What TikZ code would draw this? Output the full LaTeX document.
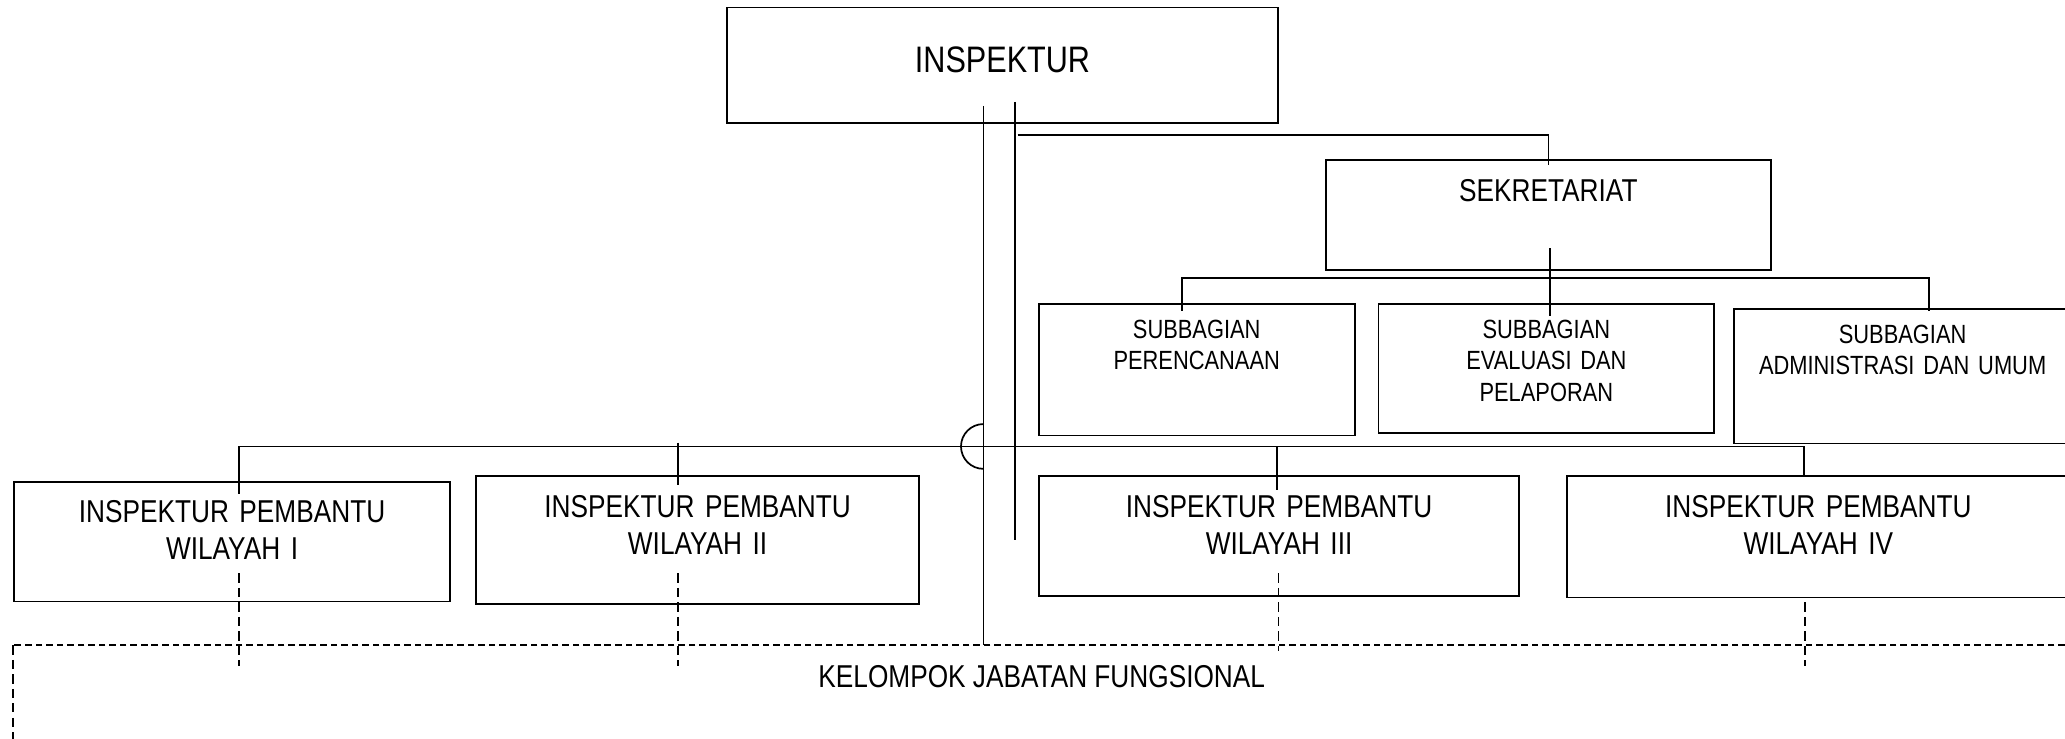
\documentclass[tikz,border=0pt]{standalone}
\usepackage{fontspec}
\setmainfont{Liberation Sans}[FakeStretch=0.83]
\usepackage{tikz}
\usetikzlibrary{calc}

\newcommand{\fTop}{\fontsize{28}{32}\selectfont}
\newcommand{\fMid}{\fontsize{24}{28}\selectfont}
\newcommand{\fSub}{\fontsize{20}{24}\selectfont}

\begin{document}
\begin{tikzpicture}[
    x=1pt, y=-1pt,
    org/.style n args={3}{rectangle, draw, line width=1.4pt, anchor=north west, inner sep=0pt, align=center,
        text width=#1pt, text height=#2pt, text depth=#3pt},
    conn/.style={line width=1.3pt},
    dsh/.style={line width=1.3pt, dash pattern=on 5pt off 3pt},
    dshv/.style={line width=1.3pt, dash pattern=on 7pt off 4pt},
]
    \useasboundingbox (0,0) rectangle (1568,561);

    \node[org={419}{49}{39}, font=\fTop] (insp) at (551,5) {INSPEKTUR};
    \node[org={338}{31.5}{51.5}, font=\fMid] (sek) at (1006,121) {SEKRETARIAT};

    \node[org={240}{26}{74}, font=\fSub] (per) at (788,230) {SUBBAGIAN\\PERENCANAAN};
    \node[org={255}{26}{72}, font=\fSub] (eva) at (1046,230) {SUBBAGIAN\\EVALUASI DAN\\PELAPORAN};
    \node[org={256}{26}{76}, font=\fSub] (adm) at (1316,234) {SUBBAGIAN\\ADMINISTRASI DAN UMUM};

    \node[org={331}{31}{60}, font=\fMid] (w1) at (10,365) {INSPEKTUR PEMBANTU\\WILAYAH I};
    \node[org={336}{31}{66}, font=\fMid] (w2) at (361,361) {INSPEKTUR PEMBANTU\\WILAYAH II};
    \node[org={365}{31}{60}, font=\fMid] (w3) at (788,361) {INSPEKTUR PEMBANTU\\WILAYAH III};
    \node[org={382}{31}{61}, font=\fMid] (w4) at (1189,361) {INSPEKTUR PEMBANTU\\WILAYAH IV};

    \node[font=\fMid, inner sep=0pt] (kjf) at (791,514) {KELOMPOK JABATAN FUNGSIONAL};

    % garis dari inspektur
    \coordinate (ia) at ($(insp.south)+(-14.5,-14)$);
    \coordinate (ib) at ($(insp.south)+(9.5,-17)$);
    \coordinate (ka) at (10,490);
    \coordinate (kb) at (1568,490);
    \coordinate (kc) at (10,561);
    \draw[conn] (ia) -- (ia |- ka);
    \draw[conn] (ib) -- ++(0,333);
    \draw[conn] ($(ib)+(2,25)$) -| ($(sek.north)+(0,4)$);

    % sekretariat ke subbagian
    \draw[conn] ($(sek.south)+(1,-17)$) -- ($(eva.north)+(2.5,10)$);
    \draw[conn] ($(per.north)+(-11,6)$) -- ++(0,-25) -| ($(adm.north)+(20,2)$);

    % inspektur pembantu
    \draw[conn] ($(w1.north)+(5.5,10)$) -- ++(0,-36) -| ($(w4.north)+(-11,0)$);
    \draw[conn] ($(w2.north)+(-15,-25)$) -- ++(0,32);
    \draw[conn] ($(w3.north)+(-1.5,-22)$) -- ++(0,33);
    \draw[conn] ($(ia |- w1.north)+(0,-43)$) arc[start angle=90, end angle=270, radius=17pt];

    % kelompok jabatan fungsional
    \draw[dsh] (kb) -- (ka);
    \draw[dshv] (ka) -- (kc);
    \draw[dshv] ($(w1.south)+(5.5,-22)$) -- ++(0,70);
    \draw[dshv] ($(w2.south)+(-15,-24)$) -- ++(0,70);
    \draw[dshv] ($(w3.south)+(-0.5,-18)$) -- ++(0,59);
    \draw[dshv] ($(w4.south)+(-10,3)$) -- ++(0,48);
\end{tikzpicture}
\end{document}
